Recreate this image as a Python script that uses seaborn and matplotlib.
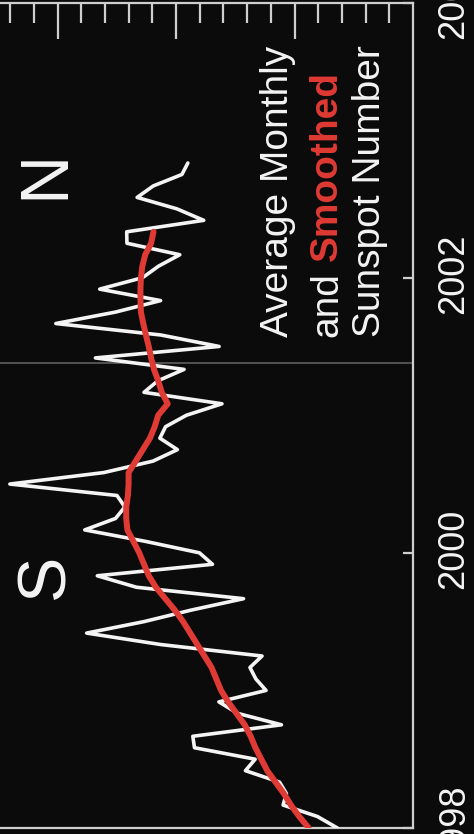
import matplotlib
matplotlib.use("Agg")
import matplotlib.pyplot as plt
from matplotlib.ticker import NullLocator
from matplotlib.transforms import ScaledTranslation
import numpy as np
import pandas as pd
import seaborn as sns

# ---------------- data ----------------
START_YEAR = 1998
monthly_sunspot = [
    31.9, 40.3, 54.8, 53.4, 56.3, 70.7, 66.6, 92.2, 92.9, 55.5, 74.0, 81.9,
    62.0, 66.3, 68.8, 63.7, 106.4, 137.7, 113.5, 93.7, 71.5, 116.7, 133.2, 84.6,
    90.1, 112.9, 138.5, 125.5, 121.6, 124.9, 170.1, 130.5, 109.7, 99.4, 106.8, 104.4,
    95.6, 80.6, 113.5, 107.7, 96.6, 134.0, 81.8, 106.4, 150.7, 125.5, 106.5, 132.2,
    114.1, 107.4, 98.4, 120.7, 120.8, 88.3, 99.6, 116.4, 109.6, 97.5, 95.0,
]
smoothed_sunspot = [
    44.0, 48.0, 51.5, 54.5, 58.0, 61.5, 64.0, 66.5, 68.5, 71.0, 74.5, 78.0,
    81.0, 83.0, 85.0, 88.0, 91.0, 94.0, 97.0, 100.5, 104.5, 108.5, 111.5, 113.5,
    115.5, 118.0, 120.5, 121.0, 121.0, 120.3, 120.0, 120.0, 117.0, 114.0, 111.0, 109.0,
    107.5, 103.5, 106.0, 107.5, 109.3, 110.5, 111.5, 112.7, 113.8, 114.8, 115.0, 115.0,
    114.8, 114.2, 113.0, 110.5, 109.5,
]
year_ticks = [1998, 2000, 2002, 2004]
year_tick_labels = ["1998", "2000", "2002", "2004"]
major_value_ticks = [50, 100, 150]
minor_value_ticks = [10, 20, 30, 40, 60, 70, 80, 90, 110, 120, 130, 140, 160, 170]
field_reversal_year = 2001.38
hemisphere_labels = ["S", "N"]
hemisphere_years = [1999.83, 2002.75]
hemisphere_value = 155
title_line1 = "Average Monthly"
title_line2a = "and"
title_line2b = "Smoothed"
title_line3 = "Sunspot Number"

# ---------------- style ----------------
sns.set_style("ticks")
plt.rcParams['font.family'] = ['Liberation Sans', 'DejaVu Sans']

BG = '#0b0b0b'
FG = '#f4f4f4'
RED = '#e03a34'
SPINE = '#cfcfcf'

W, H, DPI = 474, 834, 100
fig = plt.figure(figsize=(W / DPI, H / DPI), dpi=DPI, facecolor=BG)

PX_PER_UNIT = 2.37
X0 = 413.0            # pixel column of value 0
XMAX = 180
left_px = X0 - XMAX * PX_PER_UNIT
top_px, bot_px = 2.5, 828.0
ax = fig.add_axes([left_px / W, (H - bot_px) / H, (X0 - left_px) / W, (bot_px - top_px) / H])
ax.set_facecolor(BG)
px_per_year = (bot_px - top_px) / 6.0

def px_to_val(px):
    return (X0 - px) / PX_PER_UNIT

def ypx_to_year(py):
    return 1998 + (bot_px - py) / px_per_year

t_monthly = START_YEAR + np.arange(len(monthly_sunspot)) / 12.0
t_smooth = START_YEAR + np.arange(len(smoothed_sunspot)) / 12.0
df_m = pd.DataFrame({'t': t_monthly, 'ssn': monthly_sunspot})
df_s = pd.DataFrame({'t': t_smooth, 'ssn': smoothed_sunspot})

ax.axhline(field_reversal_year, color='#585858', lw=1.3, zorder=1)
sns.lineplot(data=df_m, x='ssn', y='t', orient='y', estimator=None, color=FG,
             lw=2.6, ax=ax, zorder=3)
sns.lineplot(data=df_s, x='ssn', y='t', orient='y', estimator=None, color=RED,
             lw=4.3, ax=ax, zorder=4, solid_capstyle='round')

ax.set_xlim(XMAX, 0)
ax.set_ylim(1998, 2004)
ax.set_xlabel('')
ax.set_ylabel('')
ax.grid(False)

for s in ax.spines.values():
    s.set_color(SPINE)
    s.set_linewidth(1.6)

# value ticks (top edge)
ax.xaxis.tick_top()
ax.set_xticks(major_value_ticks)
ax.set_xticks(minor_value_ticks, minor=True)
ax.tick_params(axis='x', which='both', direction='in', color=SPINE, width=1.6,
               labeltop=False, labelbottom=False, top=True, bottom=False)
ax.tick_params(axis='x', which='major', length=26)
ax.tick_params(axis='x', which='minor', length=14.5)

# year ticks (right edge)
ax.yaxis.tick_right()
ax.set_yticks(year_ticks)
ax.set_yticklabels(year_tick_labels, rotation=90, va='center')
ax.yaxis.set_minor_locator(NullLocator())
ax.tick_params(axis='y', which='major', direction='in', length=7.5, width=1.6,
               color=SPINE, labelcolor=FG, labelsize=26, pad=16.5,
               left=False, right=True)
shift = ScaledTranslation(0, 4.0 / DPI, fig.dpi_scale_trans)
for tk in ax.yaxis.get_major_ticks():
    tk.label2.set_transform(tk.label2.get_transform() + shift)

# S / N labels
for lab, yr in zip(hemisphere_labels, hemisphere_years):
    ax.text(hemisphere_value, yr, lab, rotation=90, fontsize=49, color=FG,
            ha='center', va='center', zorder=5)

# legend-like text block
y_start = ypx_to_year(337)
fs = 28
ax.text(px_to_val(278), y_start, title_line1, rotation=90, fontsize=fs, color=FG,
        ha='center', va='bottom', zorder=5)
t_and = ax.text(px_to_val(327), y_start, title_line2a, rotation=90, fontsize=fs,
                color=FG, ha='center', va='bottom', zorder=5)
ax.text(px_to_val(370), y_start, title_line3, rotation=90, fontsize=fs, color=FG,
        ha='center', va='bottom', zorder=5)

fig.canvas.draw()
renderer = fig.canvas.get_renderer()
bb = t_and.get_window_extent(renderer)
space_px = 0.278 * fs * DPI / 72.0
y_disp = bb.y1 + space_px
_, y_smooth = ax.transData.inverted().transform((bb.x0, y_disp))
ax.text(px_to_val(327), y_smooth, title_line2b, rotation=90, fontsize=fs,
        color=RED, fontweight='bold', ha='center', va='bottom', zorder=5)

fig.savefig('out.png', dpi=DPI, facecolor=BG)
